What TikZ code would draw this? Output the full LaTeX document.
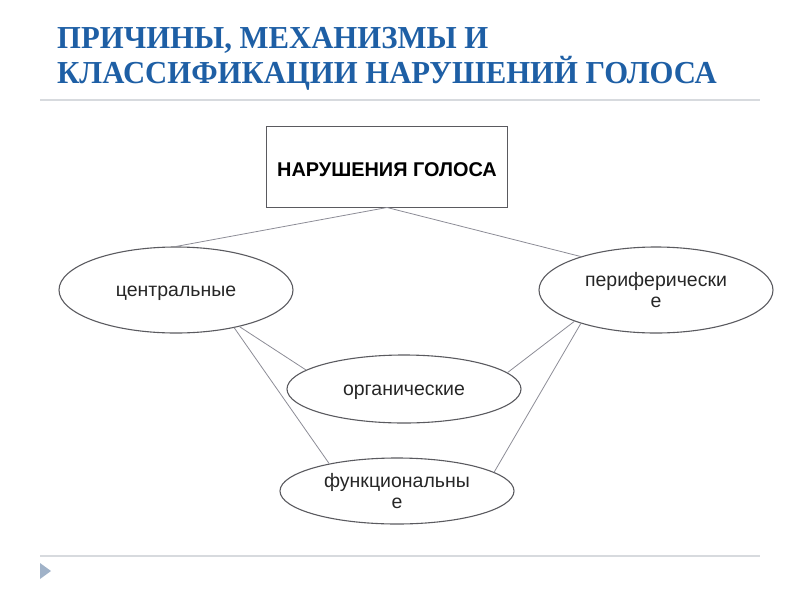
\documentclass[tikz,border=0pt]{standalone}
\usepackage{fontspec}
\setmainfont{Liberation Serif}
\newfontfamily\arialf{Liberation Sans}
\usetikzlibrary{shapes.geometric}
\definecolor{titleblue}{RGB}{30,95,165}
\definecolor{rulegray}{RGB}{215,218,222}
\definecolor{edgegray}{RGB}{140,140,150}
\definecolor{shapegray}{RGB}{90,90,95}
\definecolor{tri}{RGB}{160,178,200}
\tikzset{
  oval/.style={ellipse, draw=shapegray, line width=1.1pt, minimum width=234pt, minimum height=86pt, inner sep=0pt, align=center, font=\arialf\fontsize{19.5}{21}\selectfont, text=black!85},
  oneline/.style={text height=16pt, text depth=4pt},
  twoline/.style={text height=39pt, text depth=4pt},
  boxnode/.style={rectangle, draw=shapegray, line width=1pt, minimum width=241pt, minimum height=81pt, font=\arialf\bfseries\fontsize{19.9}{22}\selectfont, text=black, text height=20pt, text depth=1pt},
  link/.style={draw=edgegray, line width=0.8pt},
  titletext/.style={anchor=north west, inner sep=0pt, text=titleblue, align=left, font=\fontsize{32}{35}\selectfont\bfseries}
}
\begin{document}
\begin{tikzpicture}[x=1pt,y=-1pt]
\useasboundingbox (0,0) rectangle (800,600);
\node[titletext] (title) at (57,27) {\scalebox{0.96}[1]{ПРИЧИНЫ, МЕХАНИЗМЫ И}\\\scalebox{0.96}[1]{КЛАССИФИКАЦИИ НАРУШЕНИЙ ГОЛОСА}};
\draw[rulegray, line width=1.5pt] (40,100) -- (760,100);
\draw[rulegray, line width=1.5pt] (40,556) -- (760,556);
\fill[tri] (40,563) -- (51,571) -- (40,579) -- cycle;
\node[boxnode] (root) at (387,166.5) {НАРУШЕНИЯ ГОЛОСА};
\node[oval, oneline] (cen) at (176,290) {центральные};
\node[oval, twoline] (per) at (656,290) {периферически\\е};
\node[oval, oneline, minimum height=68pt] (org) at (404,389) {органические};
\node[oval, twoline, minimum height=66pt] (fun) at (397,491) {функциональны\\е};
\draw[link] (root.south) -- (cen.north);
\draw[link] (root.south) -- (per.156);
\draw[link] (cen.-30) -- (org.169);
\draw[link] (cen.-33) -- (fun.158);
\draw[link] (per.201) -- (org.9);
\draw[link] (per.204) -- (fun.11);
\end{tikzpicture}
\end{document}
